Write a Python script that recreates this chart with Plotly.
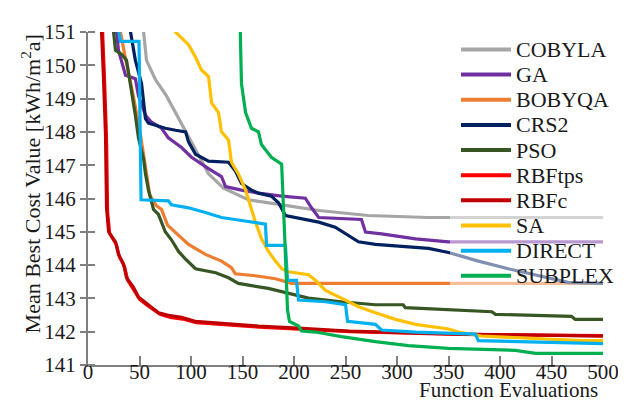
import plotly.graph_objects as go

names = ["COBYLA", "GA", "BOBYQA", "CRS2", "PSO", "RBFtps", "RBFc", "SA", "DIRECT", "SUBPLEX"]
colors = ["#A6A6A6", "#7030A0", "#ED7D31", "#002060", "#375623", "#FF0000", "#C00000", "#FFC000", "#00B0F0", "#00B050"]

x_ticks = [0, 50, 100, 150, 200, 250, 300, 350, 400, 450, 500]
y_ticks = [141, 142, 143, 144, 145, 146, 147, 148, 149, 150, 151]

cobyla_x = [53, 54, 56.8, 65.5, 76.2, 85, 92.7, 97.6, 107, 117, 131.6, 156, 194.7, 224, 272, 330, 500]
cobyla_y = [151.5, 151, 150.15, 149.57, 149.08, 148.58, 148.11, 147.82, 147.33, 146.74, 146.31, 145.96, 145.78, 145.64, 145.49, 145.43, 145.43]

ga_x = [27, 27.7, 29.6, 36.4, 46, 49, 55.8, 61.7, 71.4, 78, 90.8, 100.5, 117, 129.6, 133.5, 149, 165.5, 188, 211, 217, 224, 265.5, 269.4, 285, 318, 350, 500]
ga_y = [151.5, 151, 150.45, 149.7, 149.6, 149.08, 148.5, 148.29, 148.11, 147.82, 147.53, 147.24, 146.9, 146.66, 146.36, 146.25, 146.16, 146.07, 146.01, 145.72, 145.43, 145.37, 144.99, 144.94, 144.79, 144.70, 144.70]

bobyqa_x = [31, 31.5, 36.4, 44, 51, 55.8, 60, 66, 71.4, 77.2, 85, 97.6, 114, 129.6, 139.3, 143, 162.6, 182, 197.6, 500]
bobyqa_y = [151.5, 151, 150.2, 149.08, 147.9, 146.9, 146.1, 145.8, 145.67, 145.2, 144.99, 144.62, 144.32, 144.12, 143.92, 143.74, 143.68, 143.59, 143.45, 143.45]

crs2_x = [41, 41.3, 46, 52, 55.8, 58.7, 65.5, 75, 85, 94.7, 97.6, 104.4, 117, 136.4, 143, 149, 158.7, 165.5, 178, 185, 191.7, 211, 224, 240, 253, 262.6, 279, 311, 330.6, 350, 379, 408, 437, 466, 500]
crs2_y = [151.5, 151, 150.15, 149.45, 148.4, 148.26, 148.2, 148.11, 148.05, 148.0, 147.7, 147.33, 147.12, 147.09, 146.83, 146.45, 146.25, 146.16, 146.07, 145.87, 145.49, 145.37, 145.29, 145.14, 144.9, 144.7, 144.62, 144.56, 144.5, 144.38, 144.12, 143.89, 143.68, 143.48, 143.45]

pso_x = [24, 24.8, 26.7, 32.5, 37.4, 41.3, 46, 49, 54, 55.8, 58.7, 63.6, 68.4, 75, 81, 87.9, 94.7, 104.4, 124, 136.4, 146, 175, 214, 246, 279, 306, 308, 392, 395.6, 469.4, 473, 500]
pso_y = [151.5, 151, 150.45, 150.33, 150.15, 149.45, 148.49, 147.82, 147.18, 146.74, 146.25, 145.67, 145.52, 145.0, 144.76, 144.41, 144.18, 143.89, 143.77, 143.62, 143.45, 143.3, 143.01, 142.9, 142.81, 142.81, 142.72, 142.6, 142.52, 142.46, 142.37, 142.37]

rbftps_x = [13.5, 14, 16, 18, 19, 21, 27.5, 30.5, 35.5, 38.5, 45, 50, 57, 63, 70, 80, 92, 105, 118, 135, 166, 205, 255, 360, 500]
rbftps_y = [151.5, 151, 149.6, 147.8, 145.6, 144.95, 144.62, 144.25, 143.95, 143.55, 143.25, 142.98, 142.8, 142.66, 142.52, 142.43, 142.38, 142.27, 142.24, 142.19, 142.14, 142.08, 142.0, 141.92, 141.88]

rbfc_x = [12.5, 13, 15, 17, 18, 20, 26.7, 29.6, 34.5, 37.4, 44.2, 49, 55.8, 61.7, 68.4, 78, 90.8, 104, 117, 133.5, 165.5, 204, 253, 360, 500]
rbfc_y = [151.5, 151, 149.66, 147.9, 145.72, 145.0, 144.7, 144.32, 144.03, 143.62, 143.33, 143.04, 142.87, 142.72, 142.57, 142.49, 142.43, 142.31, 142.28, 142.22, 142.17, 142.11, 142.02, 141.93, 141.87]

sa_x = [84, 85, 97.6, 104.4, 110.2, 117, 120, 126.7, 129.6, 136.4, 139.3, 146, 153, 158.7, 162.6, 168.4, 175.2, 182, 188, 194.7, 214, 221, 230.6, 246, 262.6, 279, 298.5, 318, 350, 359.7, 382, 479, 500]
sa_y = [151.5, 151, 150.62, 150.24, 149.86, 149.66, 148.87, 148.58, 148.0, 147.76, 147.09, 146.74, 146.25, 145.66, 145.29, 144.79, 144.41, 144.12, 143.89, 143.8, 143.71, 143.54, 143.24, 143.01, 142.75, 142.57, 142.37, 142.22, 142.08, 141.99, 141.87, 141.73, 141.73]

direct_x = [29, 30, 31.5, 49.5, 51.5, 78, 81, 97.6, 114, 129.6, 149, 172.3, 173.3, 191.7, 193.7, 202.4, 204.4, 230.6, 250, 252, 279, 285, 318, 376, 379, 493, 500]
direct_y = [151.5, 151, 150.72, 150.72, 145.96, 145.93, 145.81, 145.72, 145.58, 145.43, 145.34, 145.23, 144.59, 144.59, 143.54, 143.54, 142.95, 142.9, 142.81, 142.31, 142.22, 142.05, 141.99, 141.93, 141.73, 141.64, 141.64]

subplex_x = [147.5, 148, 149, 153, 158.7, 165.5, 168.4, 178, 188, 190.8, 193.7, 195.6, 204.4, 207.3, 221, 246, 279, 311, 350, 415, 434.5, 500]
subplex_y = [151.5, 151, 149.45, 148.58, 148.11, 148.0, 147.62, 147.24, 147.03, 145.0, 142.66, 142.31, 142.17, 142.02, 141.99, 141.85, 141.7, 141.58, 141.5, 141.44, 141.35, 141.35]

series_x = [cobyla_x, ga_x, bobyqa_x, crs2_x, pso_x, rbftps_x, rbfc_x, sa_x, direct_x, subplex_x]
series_y = [cobyla_y, ga_y, bobyqa_y, crs2_y, pso_y, rbftps_y, rbfc_y, sa_y, direct_y, subplex_y]

W, H = 626, 402
L, R, T, B = 80, 31, 14, 45
PW, PH = W - L - R, H - T - B

def px(x):
    return (x - L) / PW

def py(y):
    return 1 - (y - T) / PH

FONT = "Liberation Serif"
AX = "#7F7F7F"
TXT = "#1a1a1a"

fig = go.Figure()
for n, c, xs, ys in zip(names, colors, series_x, series_y):
    fig.add_trace(go.Scatter(x=xs, y=ys, mode="lines", name=n,
                             line=dict(color=c, width=3.2), showlegend=False))

shapes = [dict(type="rect", xref="paper", yref="paper", x0=px(442), x1=px(626),
               y0=py(279), y1=py(0), fillcolor="rgba(255,255,255,0.5)", line=dict(width=0), layer="above")]
annotations = []
for i, (n, c) in enumerate(zip(names, colors)):
    yc = 32 + i * 25.9
    shapes.append(dict(type="line", xref="paper", yref="paper", x0=px(453), x1=px(503),
                       y0=py(yc), y1=py(yc), line=dict(color=c, width=4), layer="above"))
    annotations.append(dict(text=n, xref="paper", yref="paper", x=px(506), y=py(yc),
                            xanchor="left", yanchor="middle", showarrow=False,
                            font=dict(family=FONT, size=22, color=TXT)))

annotations.append(dict(text="Mean Best Cost Value [kWh/m<sup>2</sup>a]", textangle=-90,
                        xref="paper", yref="paper", x=px(23), y=py(171),
                        xanchor="center", yanchor="middle", showarrow=False,
                        font=dict(family=FONT, size=22, color=TXT)))
annotations.append(dict(text="Function Evaluations", xref="paper", yref="paper",
                        x=px(592), y=py(383), xanchor="right", yanchor="middle", showarrow=False,
                        font=dict(family=FONT, size=21, color=TXT)))

fig.update_layout(
    width=W, height=H,
    margin=dict(l=L, r=R, t=T, b=B),
    paper_bgcolor="white", plot_bgcolor="white",
    showlegend=False,
    font=dict(family=FONT, size=21, color=TXT),
    shapes=shapes, annotations=annotations,
    xaxis=dict(range=[0, 500], tickvals=x_ticks, ticktext=[str(v) for v in x_ticks],
               showgrid=False, zeroline=False, showline=True, linecolor=AX, linewidth=2,
               ticks="inside", ticklen=9, tickwidth=2, tickcolor=AX, ticklabelstandoff=-13,
               tickfont=dict(family=FONT, size=21, color=TXT)),
    yaxis=dict(range=[141, 151], tickvals=y_ticks, ticktext=[str(v) for v in y_ticks],
               showgrid=False, zeroline=False, showline=True, linecolor=AX, linewidth=2,
               ticks="outside", ticklen=6, tickwidth=2, tickcolor=AX,
               minor=dict(ticks="inside", tick0=141.0001, dtick=1, ticklen=7, tickwidth=2,
                          tickcolor=AX, showgrid=False),
               tickfont=dict(family=FONT, size=21, color=TXT)),
)

fig.write_html("out.html")
